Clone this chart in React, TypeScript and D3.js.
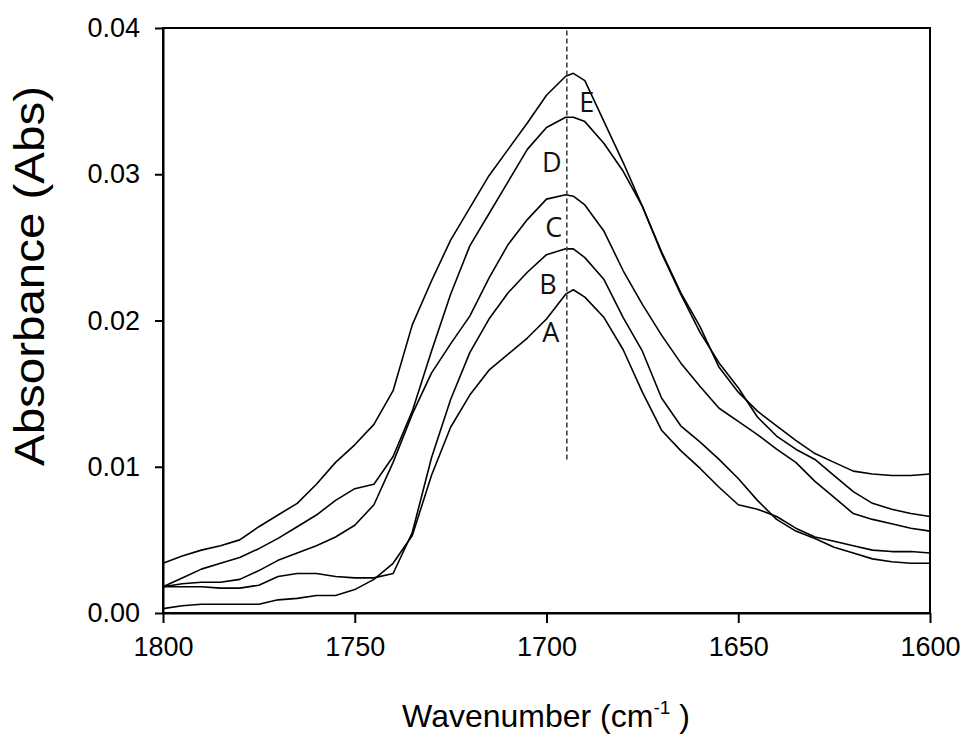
// @ts-nocheck
import * as d3 from "d3";
import { useRef, useEffect } from "react";

// wavenumber grid (cm-1)
const wavenumbers = [
  1800, 1795, 1790, 1785, 1780, 1775, 1770, 1765, 1760, 1755, 1750, 1745,
  1740, 1735, 1730, 1725, 1720, 1715, 1710, 1705, 1700, 1695, 1693, 1690,
  1685, 1680, 1675, 1670, 1665, 1660, 1655, 1650, 1645, 1640, 1635, 1630,
  1625, 1620, 1615, 1610, 1605, 1600,
];

const specA = [
  0.0003, 0.0005, 0.0006, 0.0006, 0.0006, 0.0006, 0.0009, 0.001, 0.0012,
  0.0012, 0.0016, 0.0023, 0.0034, 0.0053, 0.0094, 0.0127, 0.0149, 0.0166,
  0.0177, 0.0188, 0.0201, 0.0218, 0.0221, 0.0216, 0.0202, 0.018, 0.0151,
  0.0125, 0.0111, 0.0099, 0.0086, 0.0074, 0.0071, 0.0066, 0.0058, 0.0052,
  0.0049, 0.0046, 0.0043, 0.0042, 0.0042, 0.0041,
];
const specB = [
  0.0018, 0.0018, 0.0018, 0.0017, 0.0017, 0.0019, 0.0025, 0.0027, 0.0027,
  0.0025, 0.0024, 0.0024, 0.0027, 0.0055, 0.0106, 0.0146, 0.0178, 0.0201,
  0.0219, 0.0233, 0.0245, 0.0249, 0.0249, 0.0243, 0.0228, 0.0202, 0.0179,
  0.0147, 0.0128, 0.0117, 0.0105, 0.0092, 0.0077, 0.0064, 0.0056, 0.0051,
  0.0045, 0.0041, 0.0037, 0.0035, 0.0034, 0.0034,
];
const specC = [
  0.0018, 0.002, 0.0021, 0.0021, 0.0023, 0.0029, 0.0036, 0.0041, 0.0046,
  0.0052, 0.006, 0.0074, 0.0103, 0.0136, 0.0164, 0.0184, 0.0203, 0.0229,
  0.0252, 0.0269, 0.0283, 0.0286, 0.0285, 0.0279, 0.0261, 0.0234, 0.0211,
  0.019, 0.0171, 0.0155, 0.014, 0.0131, 0.0122, 0.0112, 0.0103, 0.009,
  0.0079, 0.0068, 0.0064, 0.0061, 0.0058, 0.0056,
];
const specD = [
  0.0018, 0.0024, 0.003, 0.0034, 0.0038, 0.0044, 0.0051, 0.0059, 0.0067,
  0.0077, 0.0085, 0.0088, 0.0107, 0.0138, 0.0179, 0.0218, 0.0251, 0.0273,
  0.0295, 0.0317, 0.0332, 0.0339, 0.0339, 0.0336, 0.0321, 0.0302, 0.0278,
  0.0247, 0.0219, 0.0196, 0.0168, 0.0151, 0.0138, 0.0128, 0.0118, 0.0109,
  0.0103, 0.0097, 0.0095, 0.0094, 0.0094, 0.0095,
];
const specE = [
  0.0034, 0.0039, 0.0043, 0.0046, 0.005, 0.0059, 0.0067, 0.0075, 0.0088,
  0.0103, 0.0115, 0.0129, 0.0152, 0.0197, 0.0227, 0.0255, 0.0277, 0.0299,
  0.0317, 0.0335, 0.0354, 0.0367, 0.0369, 0.0364, 0.0336, 0.0308, 0.0278,
  0.0246, 0.0218, 0.0192, 0.0171, 0.0154, 0.0134, 0.0121, 0.0112, 0.0105,
  0.0094, 0.0083, 0.0075, 0.0071, 0.0068, 0.0066,
];

const seriesList = [specA, specB, specC, specD, specE];

// curve labels: text, wavenumber, absorbance
const labelNames = ["A", "B", "C", "D", "E"];
const labelWn = [1698.9, 1699.6, 1698.1, 1698.6, 1689.5];
const labelAbs = [0.0192, 0.0225, 0.0264, 0.0308, 0.0349];

// dashed marker at the band maximum
const markerWn = 1694.7;
const markerAbs = [0.0105, 0.04];

const xTicks = [1800, 1750, 1700, 1650, 1600];
const yTicks = [0, 0.01, 0.02, 0.03, 0.04];

export default function App() {
  const ref = useRef();

  useEffect(() => {
    const svg = d3.select(ref.current);
    svg.selectAll("*").remove();

    const left = 163,
      right = 930,
      top = 28,
      bottom = 613;
    const font = "'Liberation Sans', Arial, sans-serif";

    const x = d3.scaleLinear().domain([1800, 1600]).range([left, right]);
    const y = d3.scaleLinear().domain([0, 0.04]).range([bottom, top]);

    // frame
    svg
      .append("rect")
      .attr("x", left)
      .attr("y", top)
      .attr("width", right - left)
      .attr("height", bottom - top)
      .attr("fill", "none")
      .attr("stroke", "#000")
      .attr("stroke-width", 2);

    const gx = svg
      .append("g")
      .attr("transform", "translate(0," + bottom + ")")
      .call(
        d3
          .axisBottom(x)
          .tickValues(xTicks)
          .tickSize(10)
          .tickSizeOuter(0)
          .tickPadding(14)
          .tickFormat(d3.format("d"))
      );
    gx.select(".domain").attr("stroke-width", 2);
    gx.selectAll(".tick line").attr("stroke-width", 2);
    gx.selectAll(".tick text")
      .attr("font-family", font)
      .attr("font-size", 27)
      .attr("fill", "#000");

    const gy = svg
      .append("g")
      .attr("transform", "translate(" + left + ",0)")
      .call(
        d3
          .axisLeft(y)
          .tickValues(yTicks)
          .tickSize(8)
          .tickSizeOuter(0)
          .tickPadding(15)
          .tickFormat(d3.format(".2f"))
      );
    gy.select(".domain").attr("stroke-width", 2);
    gy.selectAll(".tick line").attr("stroke-width", 2);
    gy.selectAll(".tick text")
      .attr("font-family", font)
      .attr("font-size", 27)
      .attr("fill", "#000");

    // spectra
    const line = d3
      .line()
      .x((d) => x(d[0]))
      .y((d) => y(d[1]));

    seriesList.forEach((s) => {
      svg
        .append("path")
        .datum(wavenumbers.map((w, i) => [w, s[i]]))
        .attr("d", line)
        .attr("fill", "none")
        .attr("stroke", "#000")
        .attr("stroke-width", 1.6)
        .attr("stroke-linejoin", "round");
    });

    // dashed marker
    svg
      .append("line")
      .attr("x1", x(markerWn))
      .attr("x2", x(markerWn))
      .attr("y1", y(markerAbs[0]))
      .attr("y2", y(markerAbs[1]))
      .attr("stroke", "#444")
      .attr("stroke-width", 1.6)
      .attr("stroke-dasharray", "5,3");

    // curve labels
    labelNames.forEach((t, i) => {
      svg
        .append("text")
        .attr("x", x(labelWn[i]))
        .attr("y", y(labelAbs[i]))
        .attr("dy", "0.36em")
        .attr("text-anchor", "middle")
        .attr("font-family", "'Open Sans', Lato, sans-serif")
        .attr("font-size", 27)
        .attr("fill", "#111")
        .text(t);
    });

    // axis titles
    const xt = svg
      .append("text")
      .attr("x", 546)
      .attr("y", 727)
      .attr("text-anchor", "middle")
      .attr("font-family", font)
      .attr("font-size", 32)
      .attr("fill", "#000");
    xt.append("tspan").text("Wavenumber (cm");
    xt.append("tspan")
      .attr("font-size", 19)
      .attr("dy", -13)
      .text("-1");
    xt.append("tspan").attr("dy", 13).text(" )");

    svg
      .append("text")
      .attr("transform", "translate(44,276) rotate(-90)")
      .attr("text-anchor", "middle")
      .attr("font-family", font)
      .attr("font-size", 42)
      .attr("textLength", 380)
      .attr("lengthAdjust", "spacingAndGlyphs")
      .attr("fill", "#000")
      .text("Absorbance (Abs)");
  }, []);

  return (
    <svg
      ref={ref}
      width={963}
      height={736}
      style={{ position: "absolute", left: 0, top: 0, background: "#fff" }}
    ></svg>
  );
}
